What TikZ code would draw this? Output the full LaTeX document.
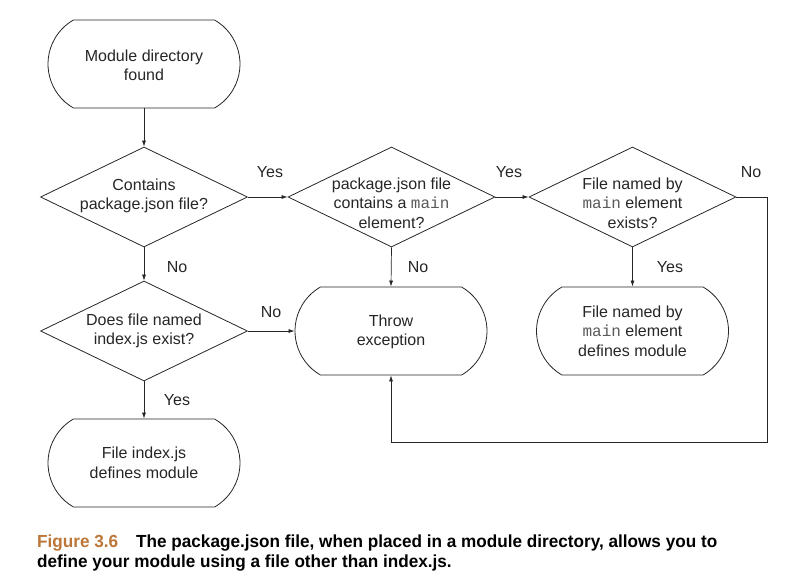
\documentclass[tikz,border=0pt]{standalone}
\usepackage{fontspec}
\setmainfont{Liberation Sans}
\newfontfamily\monof{Liberation Mono}
\newfontfamily\capf{Liberation Sans}[FakeStretch=0.98]
\usetikzlibrary{shapes.geometric,shapes.misc,arrows.meta}
\definecolor{ink}{HTML}{262626}
\definecolor{monocol}{HTML}{5A5A5A}
\definecolor{capcol}{HTML}{BC7638}
\newcommand{\mcode}[1]{{\monof\color{monocol}#1}}
\tikzset{
  every node/.style={font=\fontsize{16}{19.5}\selectfont, text=ink},
  termbox/.style={draw=ink, line width=0.8pt, rounded rectangle, rounded rectangle arc length=120,
    minimum width=192, minimum height=88, inner sep=0pt},
  decbox/.style={draw=ink, line width=0.8pt, diamond, minimum width=207, minimum height=100, inner sep=0pt},
  txt/.style={align=center, inner sep=0pt},
  lbl/.style={inner sep=0pt},
  capstyle/.style={anchor=base west, inner sep=0pt, font=\capf\bfseries\fontsize{17.5}{20}\selectfont},
  arr/.style={draw=ink, line width=0.7pt, -{Latex[length=6pt,width=4pt]}},
}
\begin{document}
\begin{tikzpicture}[x=1pt,y=-1pt]
\useasboundingbox (0,0) rectangle (790,583);
% nodes
\node[termbox] (start) at (144,64) {};
\node[txt] (startt) at (144,65.5) {Module directory\\found};
\node[decbox] (d1) at (144,197) {};
\node[txt] (d1t) at (144,196) {Contains\\package.json file?};
\node[decbox] (d2) at (391.5,197) {};
\node[txt] (d2t) at (391.5,203) {package.json file\\contains a \mcode{main}\\element?};
\node[decbox] (d3) at (632.5,197) {};
\node[txt] (d3t) at (632.5,203) {File named by\\\mcode{main} element\\exists?};
\node[decbox] (d4) at (144,331) {};
\node[txt] (d4t) at (d4) {Does file named\\index.js exist?};
\node[termbox] (throw) at (391,331) {};
\node[txt] (throwt) at (391,332) {Throw\\exception};
\node[termbox] (mdef) at (632.5,331) {};
\node[txt] (mdeft) at (mdef) {File named by\\\mcode{main} element\\defines module};
\node[termbox] (idef) at (144,463) {};
\node[txt] (ideft) at (idef) {File index.js\\defines module};
\coordinate (c1) at (767,442);
% connectors
\draw[arr] (start.south) -- (d1.north);
\draw[arr] (d1.east) -- (d2.west);
\draw[arr] (d2.east) -- (d3.west);
\draw[arr] (d1.south) -- (d4.north);
\draw[arr] (d2.south) -- (throw.north);
\draw[arr] (d3.south) -- (mdef.north);
\draw[arr] (d4.east) -- (throw.west);
\draw[arr] (d4.south) -- (idef.north);
\draw[arr] (d3.east) -| (c1) -| (throw.south);
% labels
\node[lbl] (l1) at (270,172) {Yes};
\node[lbl] (l2) at (509,172) {Yes};
\node[lbl] (l3) at (751,172) {No};
\node[lbl] (l4) at (177,267) {No};
\node[lbl] (l5) at (418,267) {No};
\node[lbl] (l6) at (670,267) {Yes};
\node[lbl] (l7) at (271,312) {No};
\node[lbl] (l8) at (177,400) {Yes};
% caption
\node[capstyle, text=capcol] (capa) at (37,547) {Figure 3.6};
\node[capstyle, text=black] (capb) at (136,547) {The package.json file, when placed in a module directory, allows you to};
\node[capstyle, text=black] (capc) at (37,567) {define your module using a file other than index.js.};
\end{tikzpicture}
\end{document}
